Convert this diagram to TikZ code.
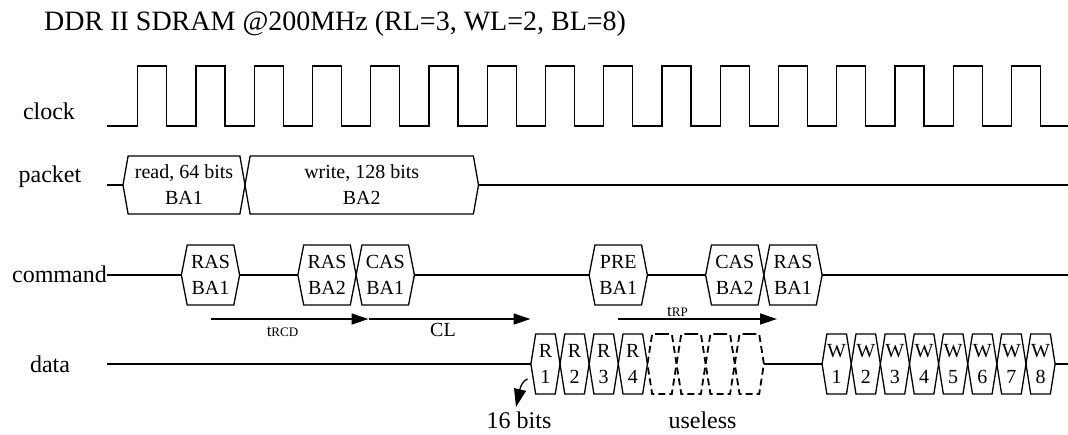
\documentclass[tikz,border=0pt]{standalone}
\usepackage{fontspec}
\setmainfont{Liberation Serif}
\usetikzlibrary{arrows.meta,shapes.symbols}

\begin{document}
\begin{tikzpicture}[
			x=1pt, y=-1pt,
			sig/.style={line width=1.3pt},
			cell/.style={shape=signal, signal to=east and west, signal pointer angle=158, draw, line width=1.3pt, inner sep=0pt, outer sep=0pt, minimum height=60pt, align=center, font=\fontsize{20}{26}\selectfont},
			datacell/.style={cell, signal pointer angle=162},
			useless/.style={datacell, line width=1.8pt, dash pattern=on 7pt off 4pt},
			lbl/.style={anchor=base, inner sep=0pt, font=\fontsize{24}{28}\selectfont},
			arrow/.style={-{Triangle[length=17pt,width=11pt]}, line width=1.3pt}
			]
			\useasboundingbox (0,0) rectangle (1068,434);
			% Title and row labels
			\node[anchor=base west, inner sep=0pt, font=\fontsize{28}{32}\selectfont] (title) at (44,30) {DDR II SDRAM @200MHz (RL=3, WL=2, BL=8)};
			\node[lbl] (clk-lbl) at (49,119) {clock};
			\node[lbl] (pkt-lbl) at (50,182) {packet};
			\node[lbl, anchor=base east] (cmd-lbl) at (107,282) {command};
			\node[lbl] (dat-lbl) at (50,372) {data};
			
			% Clock
			\draw[sig] (107,126) \foreach \k in {0,...,15} { -- ({137.7+58.25*\k},126) -- ++(0,-60) -- ++(29.125,0) -- ++(0,60) } -- (1068,126);
			
			% Packet
			\coordinate (pkt-in) at (107,185);
			\coordinate (pkt-out) at (1068,185);
			\node[cell, signal pointer angle=160, minimum height=58pt, minimum width=122pt] (rd) at (184,185) {read, 64 bits\\BA1};
			\node[cell, signal pointer angle=160, minimum height=58pt, minimum width=233.5pt] (wr) at (361.75,185) {write, 128 bits\\BA2};
			\draw[sig] (pkt-in) -- (rd.west);
			\draw[sig] (wr.east) -- (pkt-out);
			
			% Command
			\coordinate (cmd-out) at (1068,275);
			\node[cell, minimum width=58.25pt] (ras1) at (210.5,275) {RAS\\BA1};
			\node[cell, minimum width=58.25pt] (ras2) at (327,275) {RAS\\BA2};
			\node[cell, minimum width=58.25pt] (cas1) at (385.25,275) {CAS\\BA1};
			\node[cell, minimum width=58.25pt] (pre1) at (618.25,275) {PRE\\BA1};
			\node[cell, minimum width=58.25pt] (cas2) at (734.75,275) {CAS\\BA2};
			\node[cell, minimum width=58.25pt] (ras3) at (793,275) {RAS\\BA1};
			\draw[sig] (cmd-lbl.east |- ras1.west) -- (ras1.west);
			\draw[sig] (ras1.east) -- (ras2.west);
			\draw[sig] (cas1.east) -- (pre1.west);
			\draw[sig] (pre1.east) -- (cas2.west);
			\draw[sig] (ras3.east) -- (cmd-out);
			
			% Timing arrows
			\coordinate (rcd-a) at (210.5,319);
			\coordinate (rcd-b) at (368.5,319);
			\coordinate (cl-b) at (530.5,319);
			\coordinate (rp-a) at (618,319);
			\coordinate (rp-b) at (777,319);
			\draw[arrow] (rcd-a) -- (rcd-b);
			\draw[arrow] (rcd-b) -- (cl-b);
			\draw[arrow] (rp-a) -- (rp-b);
			\node[anchor=base, inner sep=0pt] (trcd) at (282.5,336) {\fontsize{17}{17}\selectfont t\fontsize{13}{13}\selectfont RCD};
			\node[anchor=base, inner sep=0pt, font=\fontsize{20}{24}\selectfont] (cl) at (443,336) {CL};
			\node[anchor=base, inner sep=0pt] (trp) at (677.5,316) {\fontsize{17}{17}\selectfont t\fontsize{13}{13}\selectfont RP};
			
			% Data
			\coordinate (dat-in) at (107,364);
			\coordinate (dat-out) at (1068,364);
			\foreach \i in {1,...,4}
				\node[datacell, minimum width=29.125pt] (r\i) at ({530.9+29.125*(\i-0.5)},364) {R\\\i};
			\foreach \i in {5,...,8}
				\node[useless, minimum width=29.125pt] (u\i) at ({530.9+29.125*(\i-0.5)},364) {};
			\foreach \i in {1,...,8}
				\node[datacell, minimum width=29.125pt] (w\i) at ({822.1+29.125*(\i-0.5)},364) {W\\\i};
			\draw[sig] (dat-in) -- (r1.west);
			\draw[sig] (u8.east) -- (w1.west);
			\draw[sig] (w8.east) -- (dat-out);
			
			% Notes
			\coordinate (bits-from) at (527.5,379);
			\coordinate (bits-tip) at (516,407);
			\draw[-{Triangle[length=18pt,width=12pt]}, line width=1.3pt] (bits-from) .. controls (520,382) and (519,394) .. (bits-tip);
			\node[lbl] (bits) at (519,428) {16 bits};
			\node[lbl] (junk) at (702.5,428) {useless};
		\end{tikzpicture}
\end{document}
